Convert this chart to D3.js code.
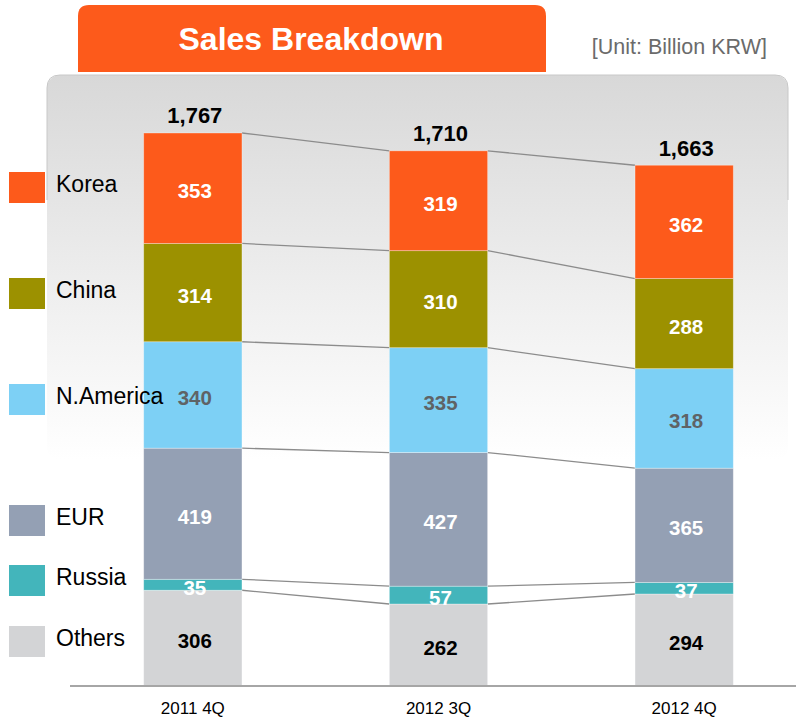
<!DOCTYPE html>
<html>
<head>
<meta charset="utf-8">
<script src="https://cdn.jsdelivr.net/npm/d3@7"></script>
<style>
  body { margin: 0; background: #fff; }
  text { font-family: "Liberation Sans", Arial, sans-serif; }
</style>
</head>
<body>
<script>
let width = 796, height = 718;

// data (Billion KRW)
let quarters = ['2011 4Q', '2012 3Q', '2012 4Q'];
let regions = ['Korea', 'China', 'N.America', 'EUR', 'Russia', 'Others'];
let korea    = [353, 319, 362];
let china    = [314, 310, 288];
let nAmerica = [340, 335, 318];
let eur      = [419, 427, 365];
let russia   = [35, 57, 37];
let others   = [306, 262, 294];
let totals   = [1767, 1710, 1663];

let colors = ['#fd5a1b', '#9c9100', '#7dd0f5', '#94a0b4', '#43b5bb', '#d3d4d6'];
let labelColors = ['#fff', '#fff', '#5f6366', '#fff', '#fff', '#000'];

// legend square tops (layout)
let legendTop = [172, 278, 384, 505, 565, 626];

let series = [korea, china, nAmerica, eur, russia, others];

// stack from bottom (Others) up to Korea
let table = quarters.map(function(q, i) {
  let row = { quarter: q };
  regions.forEach(function(r, k) { row[r] = series[k][i]; });
  return row;
});
let stacked = d3.stack().keys(regions.slice().reverse())(table);

let svg = d3.select('body')
  .append('svg')
  .attr('width', width)
  .attr('height', height);

let defs = svg.append('defs');
let grad = defs.append('linearGradient')
  .attr('id', 'panelGrad')
  .attr('x1', 0).attr('y1', 0).attr('x2', 0).attr('y2', 1);
grad.append('stop').attr('offset', '0%').attr('stop-color', '#d8d8d8');
grad.append('stop').attr('offset', '55%').attr('stop-color', '#eeeeee');
grad.append('stop').attr('offset', '100%').attr('stop-color', '#ffffff');

// panel background
svg.append('rect')
  .attr('x', 47).attr('y', 75)
  .attr('width', 741).attr('height', 385)
  .attr('rx', 13)
  .attr('fill', 'url(#panelGrad)');
svg.append('path')
  .attr('d', 'M47,200 L47,88 Q47,75 60,75 L775,75 Q788,75 788,88 L788,200')
  .attr('fill', 'none')
  .attr('stroke', '#c8c8c8')
  .attr('stroke-width', 1);

// title box
svg.append('path')
  .attr('d', 'M78,72 L78,16 Q78,5 89,5 L535,5 Q546,5 546,16 L546,72 Z')
  .attr('fill', '#fd5a1b');
svg.append('text')
  .attr('x', 311).attr('y', 50)
  .attr('text-anchor', 'middle')
  .attr('fill', '#fff')
  .style('font-size', '32px')
  .style('font-weight', 'bold')
  .text('Sales Breakdown');
svg.append('text')
  .attr('x', 767).attr('y', 54)
  .attr('text-anchor', 'end')
  .attr('fill', '#6b6b6b')
  .style('font-size', '21.5px')
  .text('[Unit: Billion KRW]');

let x = d3.scaleBand()
  .domain(quarters)
  .range([70, 807])
  .paddingInner(0.6)
  .paddingOuter(0.3);

let y = d3.scaleLinear()
  .domain([0, totals[0]])
  .range([686, 133]);

let g = svg.append('g');

// connector lines between bars at each segment top
stacked.forEach(function(layer) {
  for (let i = 0; i < quarters.length - 1; i++) {
    g.append('line')
      .attr('x1', x(quarters[i]) + x.bandwidth())
      .attr('y1', y(layer[i][1]))
      .attr('x2', x(quarters[i + 1]))
      .attr('y2', y(layer[i + 1][1]))
      .attr('stroke', '#8c8c8c')
      .attr('stroke-width', 1.3);
  }
});

// bars
stacked.forEach(function(layer) {
  let k = regions.indexOf(layer.key);
  g.selectAll(null)
    .data(layer)
    .join('rect')
    .attr('x', function(d) { return x(d.data.quarter); })
    .attr('y', function(d) { return y(d[1]); })
    .attr('width', x.bandwidth())
    .attr('height', function(d) { return y(d[0]) - y(d[1]); })
    .attr('fill', colors[k])
    .attr('stroke', '#fff')
    .attr('stroke-opacity', 0.4)
    .attr('stroke-width', 0.8);
});

// legend
let legend = svg.append('g');
regions.forEach(function(r, k) {
  legend.append('rect')
    .attr('x', 9).attr('y', legendTop[k])
    .attr('width', 36).attr('height', 31)
    .attr('fill', colors[k]);
  legend.append('text')
    .attr('x', 56).attr('y', legendTop[k] + 20)
    .attr('fill', '#000')
    .style('font-size', '23px')
    .text(r);
});

// segment labels
stacked.forEach(function(layer) {
  let k = regions.indexOf(layer.key);
  g.selectAll(null)
    .data(layer)
    .join('text')
    .attr('x', function(d) { return x(d.data.quarter) + x.bandwidth() / 2 + 2; })
    .attr('y', function(d) { return (y(d[0]) + y(d[1])) / 2 + 10; })
    .attr('text-anchor', 'middle')
    .attr('fill', labelColors[k])
    .style('font-size', '20.5px')
    .style('font-weight', 'bold')
    .text(function(d) { return d[1] - d[0]; });
});

// totals
g.selectAll(null)
  .data(totals)
  .join('text')
  .attr('x', function(d, i) { return x(quarters[i]) + x.bandwidth() / 2 + 2; })
  .attr('y', function(d) { return y(d) - 10; })
  .attr('text-anchor', 'middle')
  .attr('fill', '#000')
  .style('font-size', '22px')
  .style('font-weight', 'bold')
  .text(function(d) { return d3.format(',')(d); });

// x axis
let axis = svg.append('g')
  .attr('transform', 'translate(0,686)')
  .call(d3.axisBottom(x).tickSize(0));
axis.select('.domain').remove();
axis.append('line')
  .attr('x1', 70).attr('x2', 796)
  .attr('stroke', '#a6a6a6')
  .attr('stroke-width', 2);
axis.selectAll('.tick text')
  .attr('y', 28)
  .attr('dy', 0)
  .attr('fill', '#000')
  .style('font-size', '17px')
  .style('font-family', '"Liberation Sans", Arial, sans-serif');
</script>
</body>
</html>
